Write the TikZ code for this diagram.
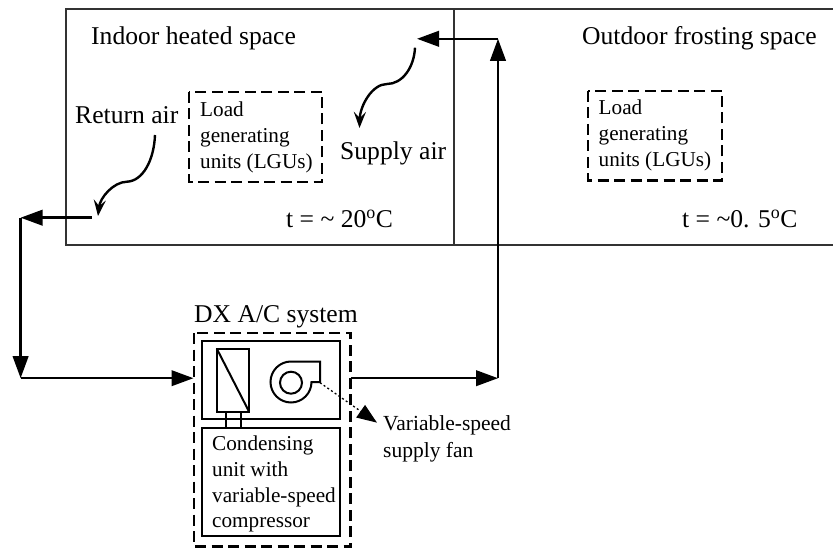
\documentclass[tikz,border=0pt]{standalone}
\usepackage{fontspec}
\setmainfont{Liberation Serif}
\usetikzlibrary{arrows.meta}
\tikzset{
 x=1pt,y=-1pt,
 thinbox/.style={draw=black!80,line width=1.5pt},
 solidbox/.style={draw=black,line width=2pt},
 dashbox/.style={draw=black,line width=2.3pt,dash pattern=on 11pt off 5.5pt},
 flow/.style={draw=black,line width=2.4pt,-{Triangle[length=22pt,width=15.5pt]}},
 curl/.style={draw=black,line width=2.4pt,-{Stealth[length=16pt,width=12pt,inset=6pt]}},
 dotflow/.style={draw=black,line width=1.3pt,dash pattern=on 2pt off 2.5pt,-{Triangle[length=20pt,width=15pt,sep=0pt]}},
 big/.style={inner sep=0pt,font=\fontsize{25.6}{30}\selectfont,anchor=base west},
 small/.style={inner sep=0pt,font=\fontsize{21.2}{25.8}\selectfont,align=left,anchor=north west},
}
\begin{document}
\begin{tikzpicture}
\useasboundingbox (0,0) rectangle (833,548);
% rooms
\draw[thinbox] (833,9) -- (66,9) -- (66,245) -- (833,245);
\draw[thinbox] (454,9) -- (454,245);
% texts
\node[big] (indoor) at (91,45) {Indoor heated space};
\node[big] (outdoor) at (582,45) {Outdoor frosting space};
\node[big] (ret) at (75,123.5) {Return air};
\node[big] (sup) at (340,160) {Supply air};
\node[big] (tin) at (286,228) {t = \textasciitilde\ 20\textsuperscript{o}C};
\node[big] (tout) at (682,228) {t = \textasciitilde 0. 5\textsuperscript{o}C};
\node[big] (dx) at (194,323) {DX A/C system};
% LGU
\draw[dashbox] (189,92) rectangle (322,182);
\node[small] (lgua) at (200,102) {Load\\generating\\units (LGUs)};
\draw[dashbox] (588,91) rectangle (722,180.5);
\node[small] (lgub) at (598.5,100) {Load\\generating\\units (LGUs)};
% DX
\draw[dashbox] (194,333) rectangle (350.5,546.5);
\draw[solidbox] (201.7,341) rectangle (340,419.3);
\draw[solidbox] (201.7,427.7) rectangle (340,536);
\node[small] (cond) at (212,435.5) {Condensing\\unit with\\variable-speed\\compressor};
% coil
\draw[solidbox] (216.7,348.5) rectangle (249,411.5);
\draw[solidbox] (216.7,348.5) -- (249,411.5);
\draw[solidbox] (225.7,411.5) -- (225.7,427.7) (241,411.5) -- (241,427.7);
% fan
\draw[solidbox] (320,361.7) -- (320,382) -- (311.5,382) arc[start angle=0,end angle=270,radius=20.5] -- cycle;
\draw[solidbox] (291,382.7) circle (11);
% connectors
\coordinate (retstart) at (91.5,217.7);
\coordinate (c1) at (20.6,217.7);
\coordinate (c2) at (20.6,378.2);
\coordinate (dxin) at (193.5,378.2);
\coordinate (dxout) at (351,378.2);
\coordinate (c3) at (498,378.2);
\coordinate (c4) at (498,38.8);
\coordinate (supend) at (417,38.8);
\coordinate (fanout) at (320,382.7);
\coordinate (fanlabel) at (377,422.7);
\draw[flow] (retstart) -- (c1);
\draw[flow] (c1) -- (c2);
\draw[flow] (c2) -- (dxin);
\draw[flow] (dxout) -- (c3);
\draw[flow] (c3) -- (c4);
\draw[flow] (c4) -- (supend);
\draw[dotflow] (fanout) -- (fanlabel);
\node[small,font=\fontsize{21.5}{26.5}\selectfont] (fanl) at (383,415.5) {Variable-speed\\supply fan};
% curly air arrows
\coordinate (ra0) at (155,135);
\coordinate (ra1) at (127,181.7);
\coordinate (ra2) at (98,216);
\draw[curl] (ra0) .. controls (154,160) and (143,181) .. (ra1) .. controls (113,182) and (100,198) .. (ra2);
\coordinate (sa0) at (415,47.7);
\coordinate (sa1) at (387,84);
\coordinate (sa2) at (359.5,128);
\draw[curl] (sa0) .. controls (414,68) and (402,84) .. (sa1) .. controls (372,84) and (360,106) .. (sa2);
\end{tikzpicture}
\end{document}
